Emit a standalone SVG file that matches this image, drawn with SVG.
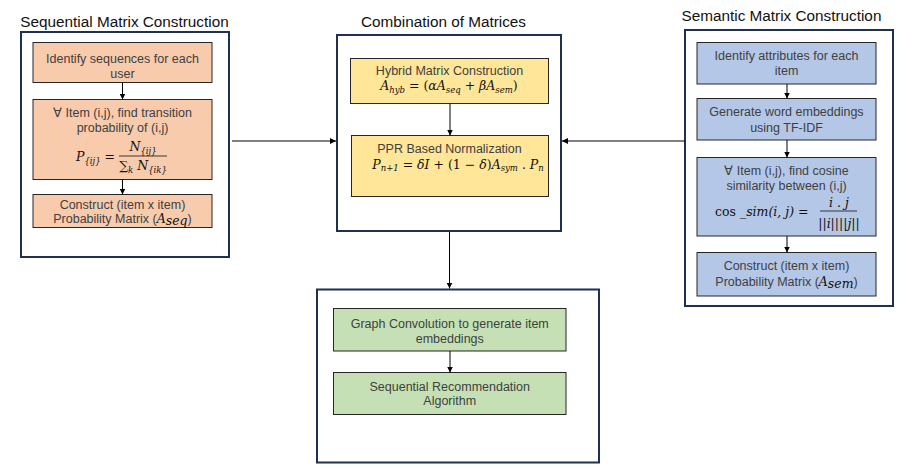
<svg xmlns="http://www.w3.org/2000/svg" width="915" height="469" viewBox="0 0 915 469">
<defs>
<marker id="ah" viewBox="0 0 10 10" refX="10" refY="5" markerWidth="6" markerHeight="6" orient="auto" markerUnits="userSpaceOnUse"><path d="M0,0 L10,5 L0,10 z" fill="#000"/></marker>
</defs>
<style>
.title{font-family:"Liberation Sans",Arial,sans-serif;font-size:15.3px;fill:#111;text-anchor:middle}
.outer{fill:#fff;stroke:#1f3050;stroke-width:2}
.box{stroke:#262626;stroke-width:1}
.peach{fill:#f8cbad}.yellow{fill:#ffe699}.blue{fill:#b4c7e7}.green{fill:#c5e0b4}
.t{font-family:"Liberation Sans",Arial,sans-serif;font-size:12.5px;fill:#404040;text-anchor:middle}
.m{font-family:"DejaVu Serif","Liberation Serif",serif;font-style:italic;font-size:12.5px;fill:#111}
.sub{font-size:8.5px}
.up{font-style:normal}
.bar{stroke:#111;stroke-width:0.8}
.conn line{stroke:#000;stroke-width:1;marker-end:url(#ah)}
</style>
<rect width="915" height="469" fill="#fff"/>

<g id="sequential">
<text class="title" x="124.5" y="26.5">Sequential Matrix Construction</text>
<rect class="outer" x="21" y="32" width="208" height="225"/>
</g>
<g id="seq-identify">
<rect class="box peach" x="33" y="42.5" width="179" height="40"/>
<text class="t" x="122.5" y="62.5">Identify sequences for each</text>
<text class="t" x="122.5" y="77.5">user</text>
</g>
<g id="seq-transition">
<rect class="box peach" x="33" y="99.5" width="179" height="80"/>
<text class="t" x="122.5" y="117">∀ Item (i,j), find transition</text>
<text class="t" x="122.5" y="132">probability of (i,j)</text>
<text class="m" x="115" y="161" text-anchor="end">P<tspan class="sub" dy="3">{ij}</tspan><tspan class="up" dy="-3"> =</tspan></text>
<line class="bar" x1="119" y1="156" x2="167" y2="156"/>
<text class="m" x="143" y="151" text-anchor="middle">N<tspan class="sub" dy="2.5">{ij}</tspan></text>
<text class="m" x="143" y="170" text-anchor="middle"><tspan class="up">∑</tspan><tspan class="sub" dy="2.5">k</tspan><tspan dy="-2.5"> N</tspan><tspan class="sub" dy="2.5">{ik}</tspan></text>
</g>
<g id="seq-matrix">
<rect class="box peach" x="33" y="194.5" width="179" height="33"/>
<text class="t" x="122.5" y="208.5">Construct (item x item)</text>
<text class="t" x="122.5" y="223">Probability Matrix (<tspan class="m" font-size="11.5">A</tspan><tspan class="m" font-size="8" dy="2">seq</tspan><tspan dy="-2">)</tspan></text>
</g>

<g id="combination">
<text class="title" x="443.5" y="26.5">Combination of Matrices</text>
<rect class="outer" x="337" y="35" width="224" height="196"/>
</g>
<g id="hybrid">
<rect class="box yellow" x="350.5" y="58.5" width="198" height="45"/>
<text class="t" x="449.5" y="74.5">Hybrid Matrix Construction</text>
<text class="m" x="449" y="90" text-anchor="middle">A<tspan class="sub" dy="2.5">hyb</tspan><tspan class="up" dy="-2.5"> = (</tspan>αA<tspan class="sub" dy="2.5">seq</tspan><tspan class="up" dy="-2.5"> + </tspan>βA<tspan class="sub" dy="2.5">sem</tspan><tspan class="up" dy="-2.5">)</tspan></text>
</g>
<g id="ppr">
<rect class="box yellow" x="351.5" y="135.5" width="197" height="61"/>
<text class="t" x="449.5" y="153">PPR Based Normalization</text>
<text class="m" x="458" y="168.5" text-anchor="middle">P<tspan class="sub" dy="2.5">n+1</tspan><tspan class="up" dy="-2.5"> = </tspan>δI<tspan class="up"> + (1 − </tspan>δ<tspan class="up">)</tspan>A<tspan class="sub" dy="2.5">sym</tspan><tspan class="up" dy="-2.5"> . </tspan>P<tspan class="sub" dy="2.5">n</tspan></text>
</g>

<g id="semantic">
<text class="title" x="781.5" y="20.5">Semantic Matrix Construction</text>
<rect class="outer" x="685" y="30" width="208" height="276"/>
</g>
<g id="sem-attributes">
<rect class="box blue" x="697" y="42.5" width="179" height="41.5"/>
<text class="t" x="786.5" y="59.5">Identify attributes for each</text>
<text class="t" x="786.5" y="75">item</text>
</g>
<g id="sem-embeddings">
<rect class="box blue" x="697" y="98.5" width="179" height="41.5"/>
<text class="t" x="786.5" y="116">Generate word embeddings</text>
<text class="t" x="786.5" y="131.5">using TF-IDF</text>
</g>
<g id="sem-cosine">
<rect class="box blue" x="697" y="157.5" width="179" height="78.5"/>
<text class="t" x="786.5" y="174.5">∀ Item (i,j), find cosine</text>
<text class="t" x="786.5" y="189.5">similarity between (i,j)</text>
<text class="m" x="715" y="216"><tspan class="up">cos</tspan> _sim(i, j) <tspan class="up">=</tspan></text>
<line class="bar" x1="820" y1="211" x2="857" y2="211"/>
<text class="m" x="839" y="207" text-anchor="middle">i . j</text>
<text class="m" x="839" y="228" text-anchor="middle">||i||||j||</text>
</g>
<g id="sem-matrix">
<rect class="box blue" x="697" y="252.5" width="179" height="43.5"/>
<text class="t" x="786.5" y="270">Construct (item x item)</text>
<text class="t" x="786.5" y="285.5">Probability Matrix (<tspan class="m" font-size="11.5">A</tspan><tspan class="m" font-size="8" dy="2">sem</tspan><tspan dy="-2">)</tspan></text>
</g>

<g id="output">
<rect class="outer" x="317" y="289.5" width="282" height="173"/>
</g>
<g id="graph-conv">
<rect class="box green" x="333.5" y="308.5" width="232.5" height="42.5"/>
<text class="t" x="449.75" y="328">Graph Convolution to generate item</text>
<text class="t" x="449.75" y="343">embeddings</text>
</g>
<g id="seq-rec">
<rect class="box green" x="333.5" y="372.5" width="232.5" height="42"/>
<text class="t" x="449.75" y="390.5">Sequential Recommendation</text>
<text class="t" x="449.75" y="405">Algorithm</text>
</g>

<g id="connectors" class="conn">
<line x1="232" y1="141" x2="336" y2="141"/>
<line x1="685" y1="141" x2="562" y2="141"/>
<line x1="449.5" y1="232" x2="449.5" y2="288.5"/>
<line x1="122.5" y1="82.5" x2="122.5" y2="99.5"/>
<line x1="122.5" y1="179.5" x2="122.5" y2="194.5"/>
<line x1="787" y1="84" x2="787" y2="98.5"/>
<line x1="787" y1="140" x2="787" y2="157.5"/>
<line x1="787" y1="236" x2="787" y2="252.5"/>
<line x1="450" y1="103.5" x2="450" y2="135.5"/>
<line x1="450" y1="351" x2="450" y2="372.5"/>
</g>
</svg>
